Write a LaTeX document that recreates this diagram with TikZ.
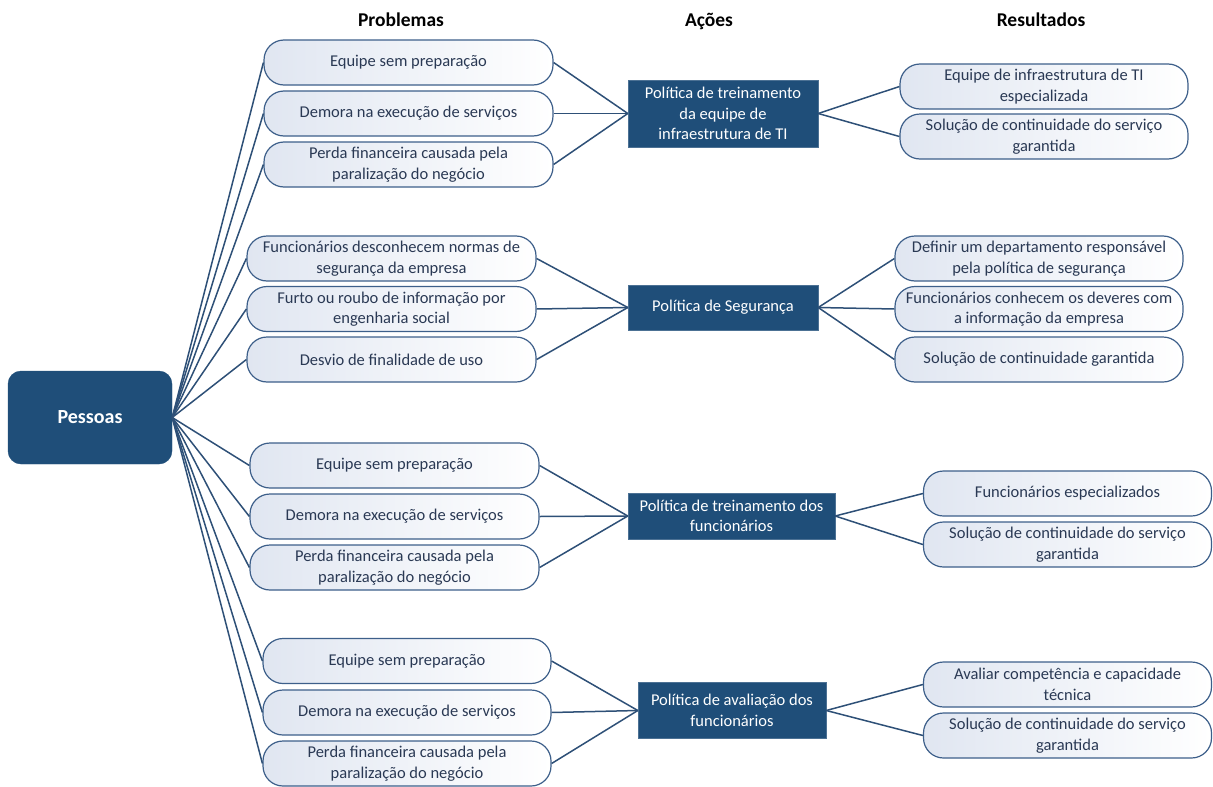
\documentclass[tikz,border=0pt]{standalone}
\usepackage{fontspec}
\setmainfont{Carlito}
\definecolor{navy}{HTML}{1F4E79}
\definecolor{edge}{HTML}{2E5077}
\definecolor{bord}{HTML}{3D5F8A}
\definecolor{boxl}{HTML}{E0E6F1}
\definecolor{txt}{HTML}{2A3954}
\begin{document}
\begin{tikzpicture}[x=1pt,y=-1pt,
  every node/.style={font=\fontsize{16.5}{20.5}\selectfont, align=center, inner sep=0pt},
  prob/.style={draw=bord, line width=1.2pt, rounded corners=20pt, left color=boxl, right color=white,
    minimum width=289pt, minimum height=45pt, text=txt},
  res/.style={prob, minimum width=288pt},
  act/.style={fill=navy, draw=navy!80!white, text=white, minimum width=190pt},
  hdr/.style={font=\fontsize{19.5}{22}\selectfont\bfseries, text=black, anchor=base},
  conn/.style={draw=edge, line width=1.5pt}
]
\useasboundingbox (0,0) rectangle (1213,787);

% headers
\node[hdr] (h1) at (401,26) {Problemas};
\node[hdr] (h2) at (709,26) {Ações};
\node[hdr] (h3) at (1041,26) {Resultados};

% root
\node[fill=navy, draw=navy, rounded corners=13pt, minimum width=164pt, minimum height=93pt,
  text=white, font=\fontsize{20}{24}\selectfont\bfseries] (P) at (90,417.5) {Pessoas};

% group 1
\node[prob] (p11) at (408.5,62.5) {Equipe sem preparação};
\node[prob] (p12) at (408.5,113.5) {Demora na execução de serviços};
\node[prob] (p13) at (408.5,164.5) {Perda financeira causada pela\\paralização do negócio};
\node[act, minimum height=67pt] (a1) at (723,113.5) {Política de treinamento\\da equipe de\\infraestrutura de TI};
\node[res] (r11) at (1044,86.5) {Equipe de infraestrutura de TI\\especializada};
\node[res] (r12) at (1044,136.5) {Solução de continuidade do serviço\\garantida};

% group 2
\node[prob] (p21) at (391.5,258.5) {Funcionários desconhecem normas de\\segurança da empresa};
\node[prob] (p22) at (391.5,309) {Furto ou roubo de informação por\\engenharia social};
\node[prob] (p23) at (391.5,359.5) {Desvio de finalidade de uso};
\node[act, minimum height=45pt] (a2) at (723,307.5) {Política de Segurança};
\node[res] (r21) at (1039,258.5) {Definir um departamento responsável\\pela política de segurança};
\node[res] (r22) at (1039,309) {Funcionários conhecem os deveres com\\a informação da empresa};
\node[res] (r23) at (1039,359.5) {Solução de continuidade garantida};

% group 3
\node[prob] (p31) at (394.5,465.5) {Equipe sem preparação};
\node[prob] (p32) at (394.5,516.5) {Demora na execução de serviços};
\node[prob] (p33) at (394.5,567.5) {Perda financeira causada pela\\paralização do negócio};
\node[act, minimum width=207pt, minimum height=46pt] (a3) at (731.5,516) {Política de treinamento dos\\funcionários};
\node[res] (r31) at (1067.5,493.5) {Funcionários especializados};
\node[res] (r32) at (1067.5,544.5) {Solução de continuidade do serviço\\garantida};

% group 4
\node[prob, minimum width=288pt] (p41) at (407,661) {Equipe sem preparação};
\node[prob, minimum width=288pt] (p42) at (407,712.5) {Demora na execução de serviços};
\node[prob, minimum width=288pt] (p43) at (407,763.5) {Perda financeira causada pela\\paralização do negócio};
\node[act, minimum width=188pt, minimum height=56pt] (a4) at (732,710.5) {Política de avaliação dos\\funcionários};
\node[res] (r41) at (1067.5,684.5) {Avaliar competência e capacidade\\técnica};
\node[res] (r42) at (1067.5,735.5) {Solução de continuidade do serviço\\garantida};

% connectors
\foreach \p in {p11,p12,p13,p21,p22,p23,p31,p32,p33,p41,p42,p43}
  \draw[conn] (P.east) -- (\p.west);
\foreach \p in {p11,p12,p13} \draw[conn] (\p.east) -- (a1.west);
\foreach \r in {r11,r12} \draw[conn] (a1.east) -- (\r.west);
\foreach \p in {p21,p22,p23} \draw[conn] (\p.east) -- (a2.west);
\foreach \r in {r21,r22,r23} \draw[conn] (a2.east) -- (\r.west);
\foreach \p in {p31,p32,p33} \draw[conn] (\p.east) -- (a3.west);
\foreach \r in {r31,r32} \draw[conn] (a3.east) -- (\r.west);
\foreach \p in {p41,p42,p43} \draw[conn] (\p.east) -- (a4.west);
\foreach \r in {r41,r42} \draw[conn] (a4.east) -- (\r.west);
\end{tikzpicture}
\end{document}
